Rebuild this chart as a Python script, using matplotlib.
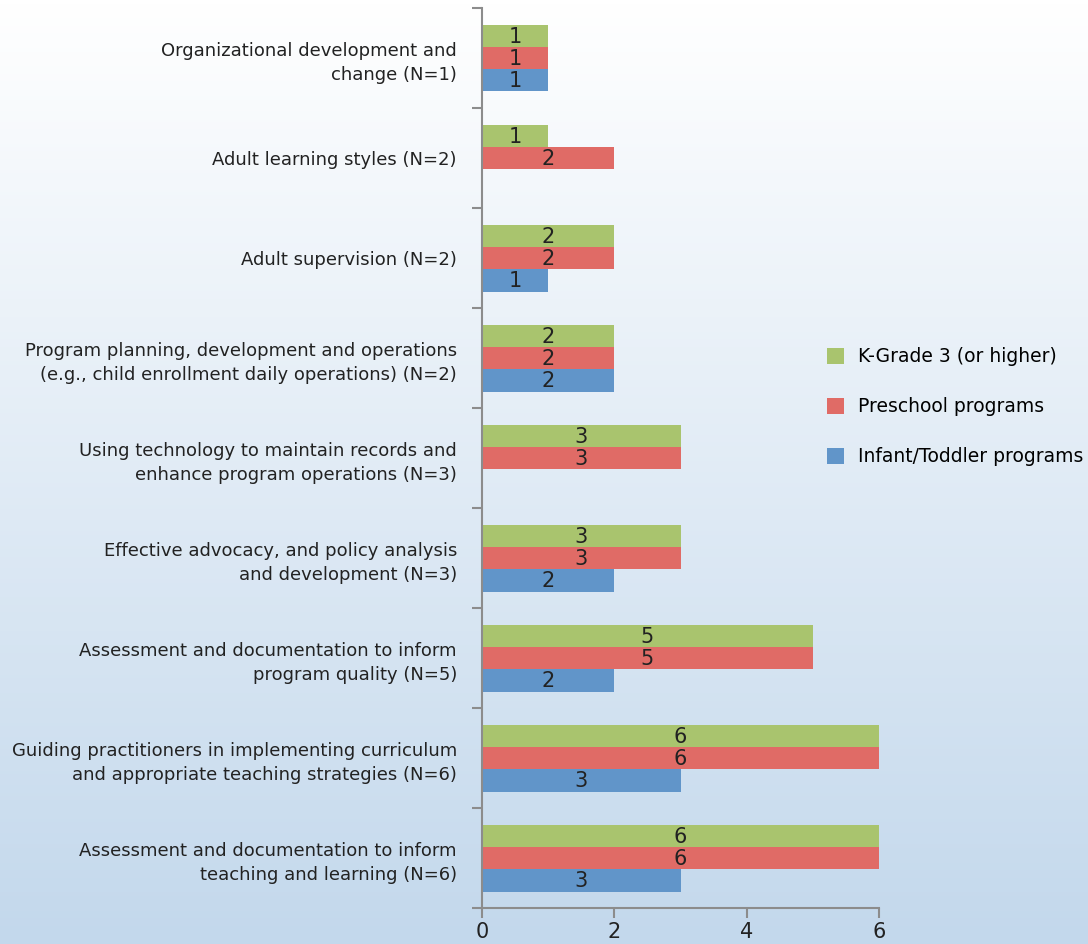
import numpy as np
import matplotlib
matplotlib.use('Agg')
import matplotlib.pyplot as plt
from matplotlib.colors import LinearSegmentedColormap

categories = [
    'Organizational development and\nchange (N=1)',
    'Adult learning styles (N=2)',
    'Adult supervision (N=2)',
    'Program planning, development and operations\n(e.g., child enrollment daily operations) (N=2)',
    'Using technology to maintain records and\nenhance program operations (N=3)',
    'Effective advocacy, and policy analysis\nand development (N=3)',
    'Assessment and documentation to inform\nprogram quality (N=5)',
    'Guiding practitioners in implementing curriculum\nand appropriate teaching strategies (N=6)',
    'Assessment and documentation to inform\nteaching and learning (N=6)',
]
k_grade3 = [1, 1, 2, 2, 3, 3, 5, 6, 6]
preschool = [1, 2, 2, 2, 3, 3, 5, 6, 6]
infant_toddler = [1, 0, 1, 2, 0, 2, 2, 3, 3]
series_names = ['K-Grade 3 (or higher)', 'Preschool programs', 'Infant/Toddler programs']
colors = ['#a9c46e', '#e06b66', '#6195c9']
x_ticks = [0, 2, 4, 6]

plt.rcParams['font.family'] = ['DejaVu Sans']

fig = plt.figure(figsize=(10.88, 9.44), dpi=100)

# background gradient, white at top to light blue at bottom
bg = fig.add_axes([0, 0, 1, 1], zorder=-10)
grad = np.linspace(0, 1, 256).reshape(-1, 1)
cmap = LinearSegmentedColormap.from_list('bg', ['#ffffff', '#c3d8ec'])
bg.imshow(grad, aspect='auto', cmap=cmap, extent=[0, 1, 0, 1], origin='upper')
bg.axis('off')

ax = fig.add_axes([0.443, 0.038, 0.365, 0.9535])
ax.patch.set_alpha(0)

n = len(categories)
y = np.arange(n)[::-1]
h = 0.223
series = [k_grade3, preschool, infant_toddler]
offsets = [h, 0, -h]
for vals, name, c, off in zip(series, series_names, colors, offsets):
    vals = np.array(vals, dtype=float)
    bars = ax.barh(y + off, vals, height=h, color=c, label=name)
    for b, v in zip(bars, vals):
        if v > 0:
            ax.text(v / 2, b.get_y() + b.get_height() / 2 - 0.01, f'{int(v)}',
                    ha='center', va='center', fontsize=15, color='#222222')

ax.set_xlim(0, 6)
ax.set_ylim(-0.5, n - 0.5)
ax.set_xticks(x_ticks)
ax.set_yticks(y)
ax.set_yticklabels(categories, fontsize=13, color='#222222', linespacing=1.45)
ax.set_yticks(np.arange(-0.5, n, 1), minor=True)
ax.tick_params(axis='y', which='major', length=0, pad=18)
ax.tick_params(axis='y', which='minor', length=7, color='#8c8c8c', width=1.5)
ax.tick_params(axis='x', length=7, color='#8c8c8c', width=1.5, labelsize=15,
               labelcolor='#222222', pad=3)
for s in ['top', 'right']:
    ax.spines[s].set_visible(False)
for s in ['left', 'bottom']:
    ax.spines[s].set_color('#8c8c8c')
    ax.spines[s].set_linewidth(1.5)

fig.legend(loc='center left', bbox_to_anchor=(0.745, 0.569), frameon=False,
           fontsize=13.5, handlelength=0.9, handleheight=0.9, labelspacing=1.65,
           handletextpad=0.75)

fig.savefig('out.png', dpi=100)
